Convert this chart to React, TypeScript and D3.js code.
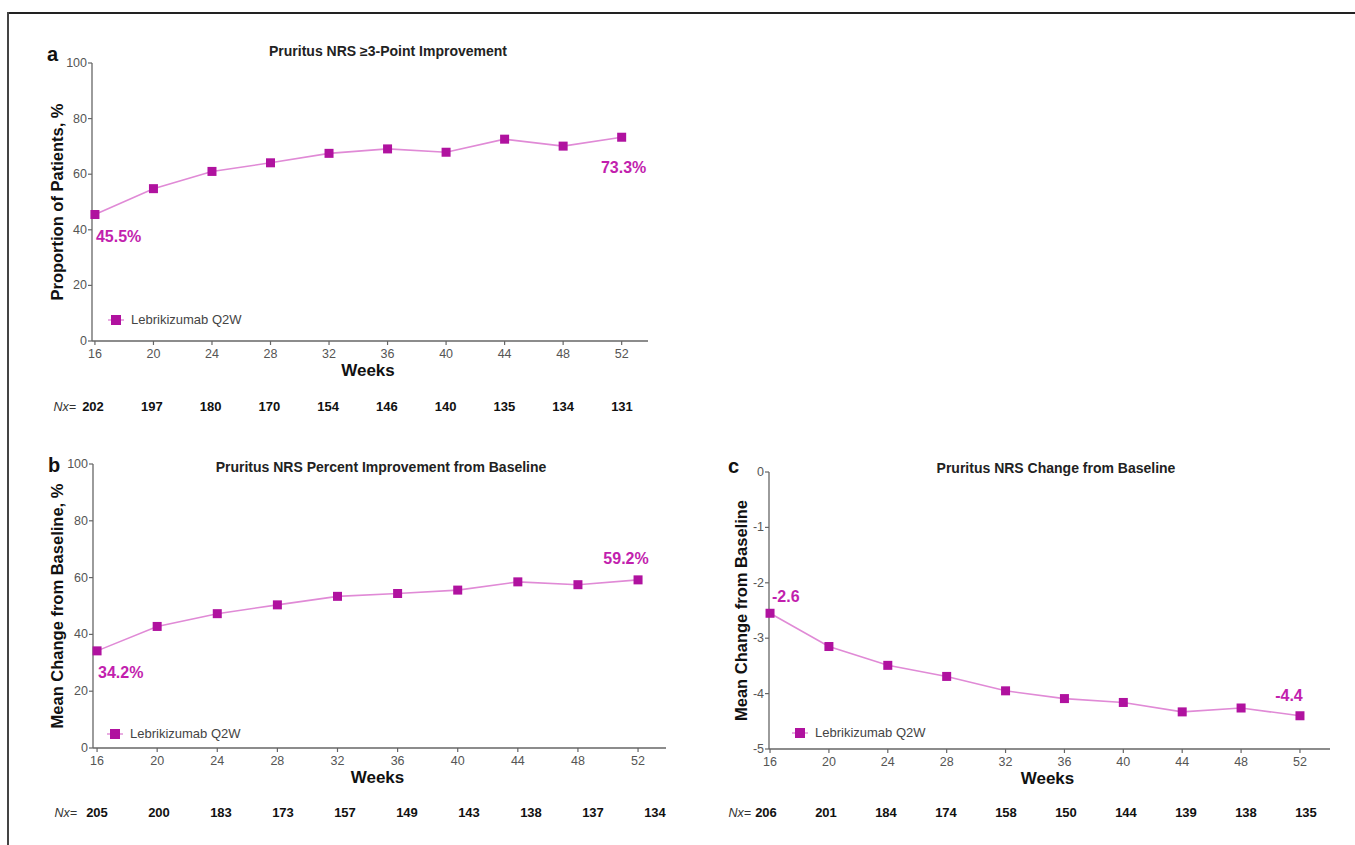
import * as d3 from 'd3';

const weeks = [16, 20, 24, 28, 32, 36, 40, 44, 48, 52];

// panel a: proportion with >=3-point improvement
const valuesA = [45.5, 54.8, 61.0, 64.1, 67.5, 69.1, 67.9, 72.6, 70.1, 73.3];
const nxA = [202, 197, 180, 170, 154, 146, 140, 135, 134, 131];

// panel b: percent improvement from baseline
const valuesB = [34.2, 42.8, 47.3, 50.4, 53.4, 54.4, 55.6, 58.5, 57.5, 59.2];
const nxB = [205, 200, 183, 173, 157, 149, 143, 138, 137, 134];

// panel c: change from baseline
const valuesC = [-2.55, -3.15, -3.49, -3.69, -3.95, -4.09, -4.16, -4.33, -4.26, -4.4];
const nxC = [206, 201, 184, 174, 158, 150, 144, 139, 138, 135];

const ticksPct = [0, 20, 40, 60, 80, 100];
const ticksChange = [0, -1, -2, -3, -4, -5];

const MARKER = '#b0129f';
const LINE = '#e08ad6';
const LABEL = '#c21fae';
const AXIS = '#666';
const NARROW = '"Liberation Sans Narrow", "Liberation Sans", Arial, sans-serif';
const SANS = '"Liberation Sans", Arial, sans-serif';

type PanelProps = {
  letter: string;
  title: string;
  yLabel: string;
  values: number[];
  nx: number[];
  yTicks: number[];
  yDomain: [number, number];
  xDomain: [number, number];
  box: { left: number; right: number; top: number; bottom: number };
  titlePos: [number, number];
  letterPos: [number, number];
  yLabelX: number;
  nxRange: [number, number];
  nxY: number;
  nxLabelX: number;
  legend: [number, number];
  firstLabel: { text: string; dx: number; dy: number };
  lastLabel: { text: string; dx: number; dy: number };
};

function Panel(p: PanelProps) {
  const { left, right, top, bottom } = p.box;
  const x = d3.scaleLinear().domain(p.xDomain).range([left, right]);
  const y = d3.scaleLinear().domain(p.yDomain).range([bottom, top]);
  const nxX = d3.scalePoint<number>().domain(weeks).range(p.nxRange);
  const line = d3.line<number>().x((_, i) => x(weeks[i])).y(d => y(d));
  const n = p.values.length - 1;
  const midY = (top + bottom) / 2;

  return (
    <g>
      <text x={p.letterPos[0]} y={p.letterPos[1]} fontFamily={SANS} fontWeight="bold" fontSize={20} fill="#111">{p.letter}</text>
      <text x={p.titlePos[0]} y={p.titlePos[1]} textAnchor="middle" fontFamily={NARROW} fontWeight="bold" fontSize={14} fill="#222">{p.title}</text>
      {/* axes */}
      <line x1={left} x2={left} y1={top} y2={bottom} stroke={AXIS} strokeWidth={1.3} />
      <line x1={left} x2={right} y1={bottom} y2={bottom} stroke={AXIS} strokeWidth={1.3} />
      {p.yTicks.map(t => (
        <g key={t}>
          <line x1={left - 4} x2={left} y1={y(t)} y2={y(t)} stroke={AXIS} strokeWidth={1.2} />
          <text x={left - 5} y={y(t) + 4} textAnchor="end" fontFamily={NARROW} fontSize={12.5} fill="#555">{t}</text>
        </g>
      ))}
      {weeks.map(w => (
        <g key={w}>
          <line x1={x(w)} x2={x(w)} y1={bottom} y2={bottom + 4} stroke={AXIS} strokeWidth={1.2} />
          <text x={x(w)} y={bottom + 17} textAnchor="middle" fontFamily={NARROW} fontSize={12.5} fill="#555">{w}</text>
        </g>
      ))}
      <text x={(left + right) / 2 - 2} y={bottom + 35} textAnchor="middle" fontFamily={SANS} fontWeight="bold" fontSize={17} fill="#111">Weeks</text>
      <text transform={`translate(${p.yLabelX},${midY}) rotate(-90)`} textAnchor="middle" fontFamily={SANS} fontWeight="bold" fontSize={16.5} fill="#111">{p.yLabel}</text>
      {/* series */}
      <path d={line(p.values) || ''} fill="none" stroke={LINE} strokeWidth={1.6} />
      {p.values.map((v, i) => (
        <rect key={i} x={x(weeks[i]) - 4.5} y={y(v) - 4.5} width={9} height={9} fill={MARKER} />
      ))}
      <text x={x(weeks[0]) + p.firstLabel.dx} y={y(p.values[0]) + p.firstLabel.dy} fontFamily={NARROW} fontWeight="bold" fontSize={16} fill={LABEL}>{p.firstLabel.text}</text>
      <text x={x(weeks[n]) + p.lastLabel.dx} y={y(p.values[n]) + p.lastLabel.dy} textAnchor="middle" fontFamily={NARROW} fontWeight="bold" fontSize={16} fill={LABEL}>{p.lastLabel.text}</text>
      {/* legend */}
      <line x1={p.legend[0] - 8} x2={p.legend[0] + 8} y1={p.legend[1]} y2={p.legend[1]} stroke={LINE} strokeWidth={1.4} />
      <rect x={p.legend[0] - 5} y={p.legend[1] - 5} width={10} height={10} fill={MARKER} />
      <text x={p.legend[0] + 15} y={p.legend[1] + 4} fontFamily={NARROW} fontSize={13} fill="#444">Lebrikizumab Q2W</text>
      {/* number at risk */}
      <text x={p.nxLabelX} y={p.nxY} textAnchor="end" fontFamily={NARROW} fontStyle="italic" fontSize={12.5} fill="#333">Nx=</text>
      {p.nx.map((v, i) => (
        <text key={i} x={nxX(weeks[i])} y={p.nxY} textAnchor="middle" fontFamily={NARROW} fontWeight="bold" fontSize={13} fill="#111">{v}</text>
      ))}
    </g>
  );
}

export default function App() {
  return (
    <svg width={1355} height={845} style={{ position: 'absolute', left: 0, top: 0, background: '#fff' }}>
      <rect x={0} y={0} width={1355} height={845} fill="#fff" />
      <line x1={8} x2={1355} y1={13} y2={13} stroke="#222" strokeWidth={2} />
      <line x1={8} x2={8} y1={12} y2={845} stroke="#444" strokeWidth={2} />
      <Panel
        letter="a"
        title="Pruritus NRS ≥3-Point Improvement"
        yLabel="Proportion of Patients, %"
        values={valuesA}
        nx={nxA}
        yTicks={ticksPct}
        yDomain={[0, 100]}
        xDomain={[15.8, 53.8]}
        box={{ left: 92, right: 648, top: 63, bottom: 341 }}
        titlePos={[388, 56]}
        letterPos={[47, 61]}
        yLabelX={63}
        nxRange={[93, 622]}
        nxY={411}
        nxLabelX={76}
        legend={[116, 320]}
        firstLabel={{ text: '45.5%', dx: 1, dy: 27 }}
        lastLabel={{ text: '73.3%', dx: 2, dy: 36 }}
      />
      <Panel
        letter="b"
        title="Pruritus NRS Percent Improvement from Baseline"
        yLabel="Mean Change from Baseline, %"
        values={valuesB}
        nx={nxB}
        yTicks={ticksPct}
        yDomain={[0, 100]}
        xDomain={[15.73, 53.86]}
        box={{ left: 93, right: 666, top: 464, bottom: 748 }}
        titlePos={[381, 472]}
        letterPos={[48, 472]}
        yLabelX={63}
        nxRange={[97, 655]}
        nxY={817}
        nxLabelX={77}
        legend={[115, 734]}
        firstLabel={{ text: '34.2%', dx: 1, dy: 27 }}
        lastLabel={{ text: '59.2%', dx: -12, dy: -16 }}
      />
      <Panel
        letter="c"
        title="Pruritus NRS Change from Baseline"
        yLabel="Mean Change from Baseline"
        values={valuesC}
        nx={nxC}
        yTicks={ticksChange}
        yDomain={[-5, 0]}
        xDomain={[15.93, 54.04]}
        box={{ left: 769, right: 1330, top: 472, bottom: 749 }}
        titlePos={[1056, 473]}
        letterPos={[728, 473]}
        yLabelX={747}
        nxRange={[766, 1306]}
        nxY={817}
        nxLabelX={751}
        legend={[800, 733]}
        firstLabel={{ text: '-2.6', dx: 2, dy: -11 }}
        lastLabel={{ text: '-4.4', dx: -11, dy: -15 }}
      />
    </svg>
  );
}
